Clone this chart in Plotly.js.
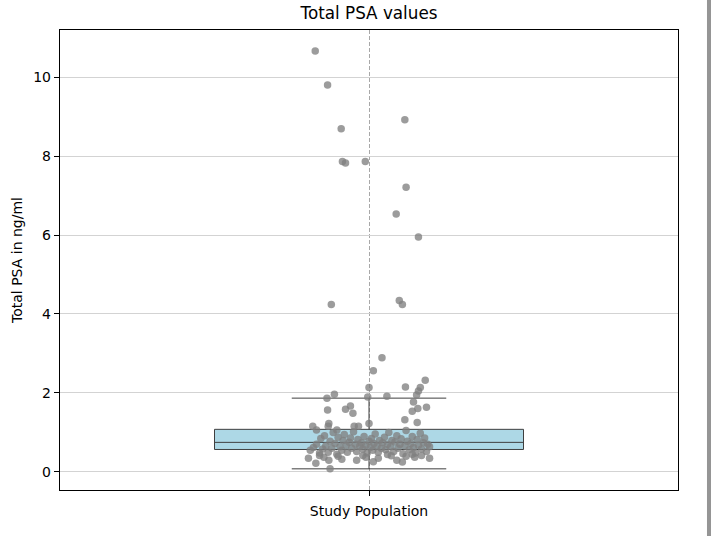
<!DOCTYPE html>
<html>
<head>
<meta charset="utf-8">
<script src="https://cdn.plot.ly/plotly-3.0.1.min.js"></script>
<style>html,body{margin:0;padding:0;background:#fff;}#chart{width:712px;height:536px;}</style>
</head>
<body>
<div id="chart"></div>
<script>
const category = "Study Population";
const categoryTicks = [0];
const boxQ1 = [0.57];
const boxMedian = [0.75];
const boxQ3 = [1.08];
const boxLowerFence = [0.08];
const boxUpperFence = [1.87];

// individual PSA values (ng/ml) and their horizontal jitter within the category
const psaValues = [
  10.66, 9.80, 8.92, 8.69, 7.86, 7.82, 7.86, 7.21, 6.53, 5.95, 4.24, 4.34, 4.24,
  2.89, 2.56, 2.32, 2.14, 2.15, 2.14, 2.05, 1.95, 1.97, 1.87, 1.90, 1.92, 1.77,
  1.67, 1.59, 1.49, 1.57, 1.64, 1.61, 1.54, 1.32, 1.23, 1.25, 1.23, 1.16, 1.16,
  1.16, 1.16, 1.06, 1.06,
  0.08, 0.22, 0.35, 0.35, 0.25, 0.26, 0.32, 0.37, 0.37, 0.41, 0.37,
  0.55, 0.62, 0.70, 0.48, 0.85, 0.58, 0.92, 0.66, 0.50, 0.78, 0.60, 1.00, 0.72,
  0.45, 0.88, 0.64, 0.55, 0.80, 0.95, 0.68, 0.50, 0.75, 0.86, 0.60, 1.02, 0.70,
  0.52, 0.82, 0.65, 0.74, 0.58, 0.90, 0.68, 0.48, 0.78, 0.62, 0.85, 0.55, 0.72,
  0.96, 0.66, 0.50, 0.80, 0.60, 0.74, 0.88, 0.56, 0.70, 1.00, 0.64, 0.80, 0.52,
  0.76, 0.92, 0.60, 0.70, 0.84, 0.46, 0.66, 1.05, 0.78, 0.56, 0.72, 0.90, 0.62,
  0.48, 0.82, 0.68, 0.98, 0.58, 0.74, 0.86, 0.52, 0.70, 0.64, 0.42, 0.40, 0.44,
  0.42, 0.40, 0.42, 0.30, 0.30, 0.45, 0.30, 0.35
];
const jitterX = [
  -0.087, -0.067, 0.058, -0.045, -0.043, -0.038, -0.006, 0.060, 0.044, 0.080, -0.061, 0.049, 0.054,
  0.021, 0.007, 0.091, 0.000, 0.059, 0.083, 0.080, 0.077, -0.056, -0.068, -0.002, 0.029, 0.072,
  -0.030, -0.038, -0.026, -0.067, 0.093, 0.079, 0.070, 0.058, 0.000, 0.078, -0.065, -0.091, -0.066,
  -0.024, -0.017, -0.085, -0.052,
  -0.063, -0.086, -0.098, 0.098, 0.054, 0.007, -0.044, 0.074, -0.005, 0.036, -0.073,
  -0.095, -0.090, -0.085, -0.080, -0.078, -0.075, -0.072, -0.070, -0.066, -0.063, -0.060, -0.058, -0.055,
  -0.052, -0.050, -0.047, -0.044, -0.042, -0.040, -0.037, -0.035, -0.032, -0.030, -0.028, -0.025, -0.022,
  -0.020, -0.018, -0.015, -0.012, -0.010, -0.008, -0.005, -0.003, 0.000, 0.002, 0.004, 0.006, 0.008,
  0.010, 0.013, 0.015, 0.017, 0.020, 0.022, 0.025, 0.027, 0.030, 0.032, 0.035, 0.037, 0.040,
  0.042, 0.045, 0.047, 0.050, 0.052, 0.055, 0.058, 0.060, 0.062, 0.065, 0.068, 0.070, 0.072,
  0.075, 0.078, 0.080, 0.083, 0.085, 0.088, 0.090, 0.093, 0.095, 0.098, 0.085, 0.060, 0.030,
  -0.010, -0.050, -0.080, -0.020, 0.045, 0.070, -0.065, 0.015
];

const font = "DejaVu Sans, sans-serif";

const boxTrace = {
  type: "box",
  x: categoryTicks,
  q1: boxQ1, median: boxMedian, q3: boxQ3,
  lowerfence: boxLowerFence, upperfence: boxUpperFence,
  width: 0.5,
  whiskerwidth: 0.5,
  boxpoints: false,
  fillcolor: "#add8e6",
  line: {color: "#3f3f3f", width: 1},
  hoverinfo: "skip",
  showlegend: false
};

const pointTrace = {
  type: "scatter",
  mode: "markers",
  x: jitterX,
  y: psaValues,
  marker: {color: "rgba(128,128,128,0.78)", size: 7.5, line: {width: 0}},
  showlegend: false
};

const layout = {
  width: 712, height: 536,
  margin: {l: 60, r: 34, t: 30, b: 46},
  paper_bgcolor: "#fff", plot_bgcolor: "#fff",
  font: {family: font, size: 14, color: "#000"},
  title: {text: "Total PSA values", font: {family: font, size: 16.8, color: "#000"}, x: 0.5, xref: "paper", xanchor: "center", y: 1, yref: "container", yanchor: "top", pad: {t: 7}},
  xaxis: {
    range: [-0.5, 0.5],
    tickmode: "array", tickvals: categoryTicks, ticktext: [category],
    ticks: "outside", ticklen: 5, tickcolor: "#000",
    ticklabelstandoff: 3,
    showgrid: true, gridcolor: "#a8a8a8", griddash: "4px,2px", gridwidth: 1,
    zeroline: false,
    showline: true, linecolor: "#000", linewidth: 1.2, mirror: true,
    tickfont: {family: font, size: 14}
  },
  yaxis: {
    range: [-0.456, 11.19],
    tickmode: "linear", tick0: 0, dtick: 2,
    ticks: "outside", ticklen: 5, tickcolor: "#000",
    showgrid: true, gridcolor: "#d3d3d3", gridwidth: 1,
    zeroline: false,
    showline: true, linecolor: "#000", linewidth: 1.2, mirror: true,
    tickfont: {family: font, size: 14},
    title: {text: "Total PSA in ng/ml", font: {family: font, size: 14}, standoff: 7}
  },
  shapes: [{
    type: "rect", xref: "paper", yref: "paper",
    x0: 1.0469, x1: 1.0534, y0: -0.11, y1: 1.08,
    fillcolor: "#959595", line: {width: 0}, layer: "above"
  }]
};

Plotly.newPlot("chart", [boxTrace, pointTrace], layout, {displayModeBar: false, staticPlot: true});
</script>
</body>
</html>
